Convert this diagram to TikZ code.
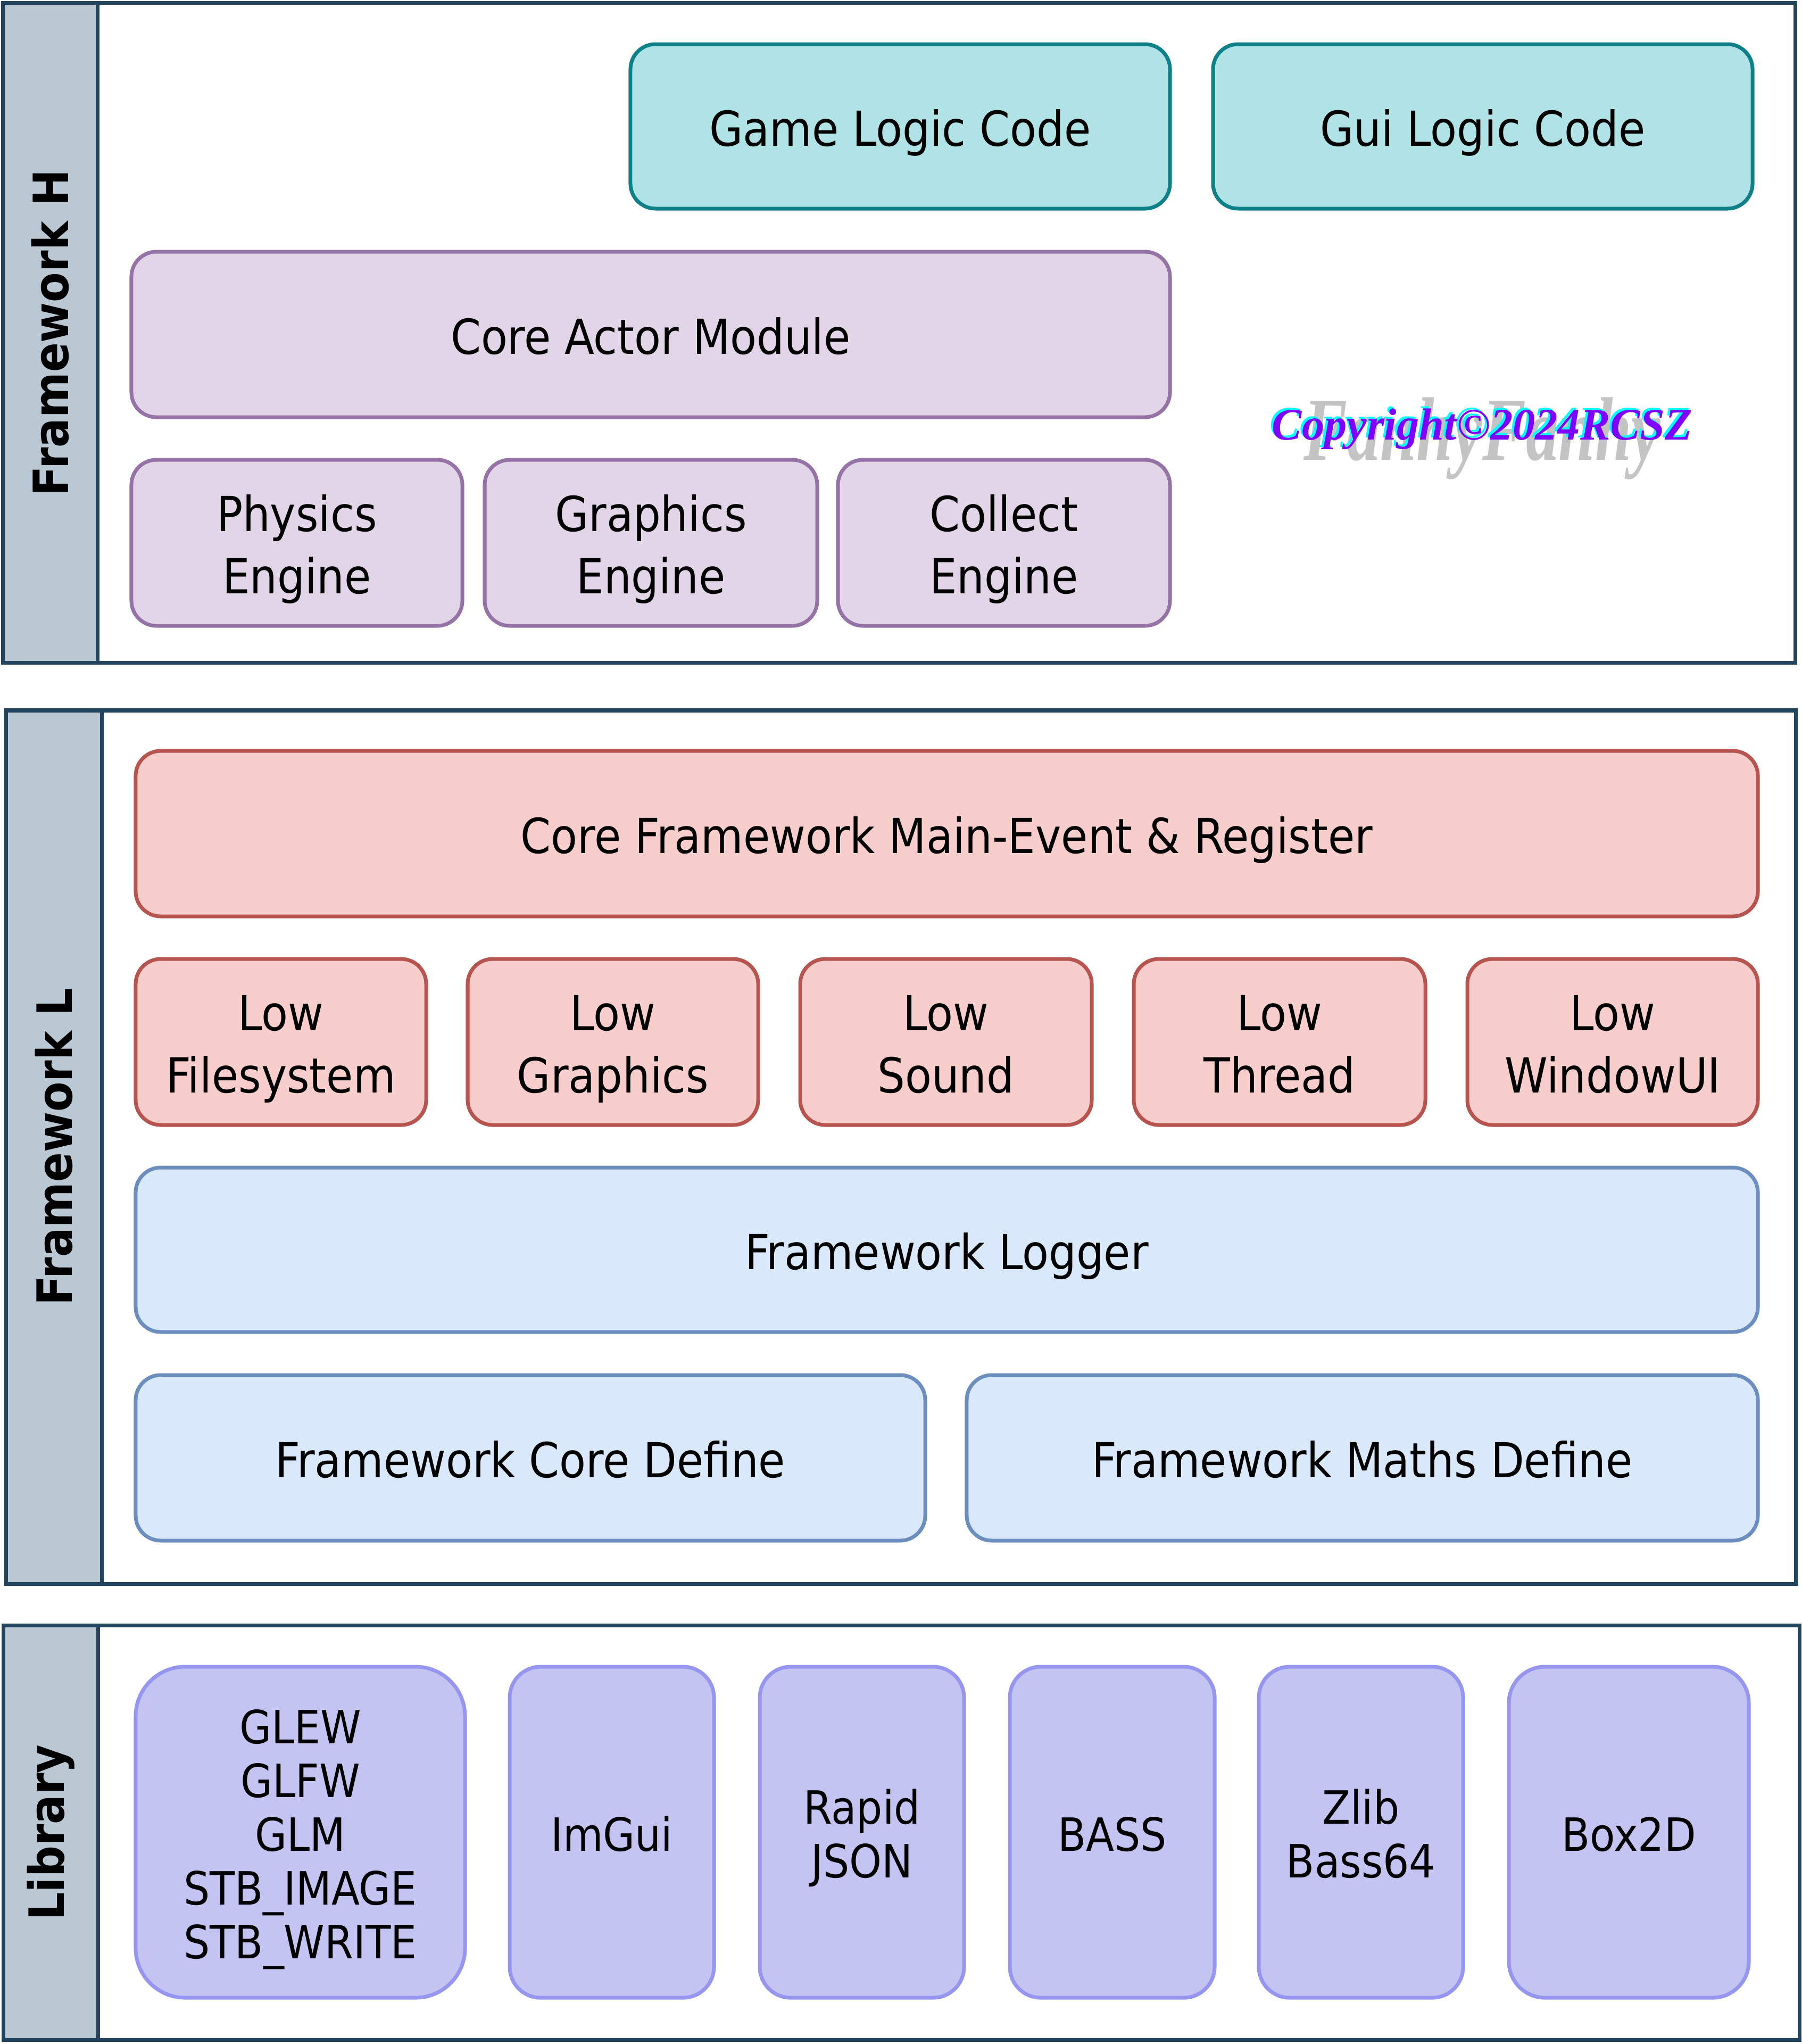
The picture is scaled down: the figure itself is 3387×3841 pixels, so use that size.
\documentclass[tikz,border=0pt]{standalone}
\usepackage{fontspec}
\IfFontExistsTF{DejaVu Sans Condensed}{\setmainfont{DejaVu Sans Condensed}}{\setmainfont{DejaVu Sans}}
\newfontfamily\copyfont{Liberation Serif}
\definecolor{sideFill}{HTML}{BAC8D3}
\definecolor{sideLine}{HTML}{23445D}
\definecolor{tealFill}{HTML}{B0E3E6}
\definecolor{tealLine}{HTML}{0E8088}
\definecolor{purpFill}{HTML}{E1D5E7}
\definecolor{purpLine}{HTML}{9673A6}
\definecolor{redFill}{HTML}{F8CECC}
\definecolor{redLine}{HTML}{B85450}
\definecolor{blueFill}{HTML}{DAE8FC}
\definecolor{blueLine}{HTML}{6C8EBF}
\definecolor{libFill}{HTML}{C4C4F3}
\definecolor{libLine}{HTML}{9696F0}
\definecolor{copyPurple}{HTML}{7F00FF}
\definecolor{copyCyan}{HTML}{00FFFF}
\definecolor{wmGrey}{HTML}{C4C4C4}
\newcommand\bx[7]{%
  \pgfmathsetmacro\bxw{(#5-#3)*0.01}%
  \pgfmathsetmacro\bxh{(#6-#4)*0.01}%
  \pgfmathsetmacro\bxx{(#3+#5)/2}%
  \pgfmathsetmacro\bxy{(#4+#6)/2}%
  \node[#2, minimum width=\bxw cm, minimum height=\bxh cm] (#1) at (\bxx,\bxy) {#7};%
}
% struts fixing the text block so the baselines sit as in the reference
\newcommand\st[1]{\rule{0pt}{28pt}#1\rule[-7pt]{0pt}{7pt}}
\newcommand\stl[1]{\rule{0pt}{27pt}#1\rule[-7pt]{0pt}{7pt}}
\tikzset{
  basebox/.style={draw, inner sep=0pt, outer sep=0pt, align=center, text=black,
    font=\fontsize{25.8}{33.3}\selectfont},
  framebox/.style={draw, inner sep=0pt, outer sep=0pt, draw=sideLine, fill=white},
  sidebox/.style={draw, inner sep=0pt, outer sep=0pt, draw=sideLine, fill=sideFill,
    text=black, font=\bfseries\fontsize{26}{31}\selectfont},
  tealbox/.style={basebox, draw=tealLine, fill=tealFill, rounded corners=0.47cm},
  purpbox/.style={basebox, draw=purpLine, fill=purpFill, rounded corners=0.47cm},
  redbox/.style={basebox, draw=redLine, fill=redFill, rounded corners=0.47cm},
  bluebox/.style={basebox, draw=blueLine, fill=blueFill, rounded corners=0.47cm},
  libbox/.style={basebox, draw=libLine, fill=libFill, rounded corners=0.58cm,
    font=\fontsize{24.5}{28.7}\selectfont},
}
\begin{document}
\begin{tikzpicture}[x=0.01cm, y=-0.01cm, line width=0.07cm]
\useasboundingbox (0,0) rectangle (3387,3841);
% ---------- Framework H ----------
\bx{frameH}{framebox}{6}{6}{3374}{1245}{}
\bx{sideH}{sidebox}{6}{6}{183}{1245}{\rotatebox{90}{Framework H}}
\bx{game}{tealbox}{1185}{83}{2199}{392}{\st{Game Logic Code}}
\bx{gui}{tealbox}{2280}{83}{3294}{392}{\st{Gui Logic Code}}
\bx{actor}{purpbox}{247}{473}{2199}{784}{\st{Core Actor Module}}
\bx{physics}{purpbox}{247}{864}{869}{1176}{\st{Physics\\Engine}}
\bx{graphics}{purpbox}{911}{864}{1536}{1176}{\st{Graphics\\Engine}}
\bx{collect}{purpbox}{1575}{864}{2199}{1176}{\st{Collect\\Engine}}
% copyright
\node[text=wmGrey, inner sep=0pt] (wm) at (2786,824)
  {\resizebox*{6.7cm}{1.54cm}{\copyfont\bfseries\itshape FanhyFanhy}};
\node[text=copyCyan, inner sep=0pt] (copyshadow) at (2782,802)
  {\resizebox{7.9cm}{!}{\copyfont\bfseries\itshape Copyright\textcopyright2024RCSZ}};
\node[text=copyPurple, inner sep=0pt] (copy) at (2786,806)
  {\resizebox{7.9cm}{!}{\copyfont\bfseries\itshape Copyright\textcopyright2024RCSZ}};
% ---------- Framework L ----------
\bx{frameL}{framebox}{12}{1335}{3375}{2976}{}
\bx{sideL}{sidebox}{12}{1335}{191}{2976}{\rotatebox{90}{Framework L}}
\bx{corefw}{redbox}{255}{1411}{3304}{1722}{\st{Core Framework Main-Event \& Register}}
\bx{lowfs}{redbox}{255}{1802}{801}{2114}{\st{Low\\Filesystem}}
\bx{lowgfx}{redbox}{879}{1802}{1425}{2114}{\st{Low\\Graphics}}
\bx{lowsnd}{redbox}{1504}{1802}{2052}{2114}{\st{Low\\Sound}}
\bx{lowthr}{redbox}{2131}{1802}{2679}{2114}{\st{Low\\Thread}}
\bx{lowwin}{redbox}{2758}{1802}{3304}{2114}{\st{Low\\WindowUI}}
\bx{logger}{bluebox}{255}{2194}{3304}{2503}{\st{Framework Logger}}
\bx{coredef}{bluebox}{255}{2584}{1739}{2895}{\st{Framework Core Define}}
\bx{mathdef}{bluebox}{1817}{2584}{3304}{2895}{\st{Framework Maths Define}}
% ---------- Library ----------
\bx{frameLib}{framebox}{7}{3054}{3382}{3833}{}
\bx{sideLib}{sidebox}{7}{3054}{184}{3833}{\rotatebox{90}{Library}}
\bx{glew}{libbox, rounded corners=0.93cm}{255}{3132}{874}{3754}{\stl{GLEW\\GLFW\\GLM\\STB\_IMAGE\\STB\_WRITE}}
\bx{imgui}{libbox}{958}{3132}{1342}{3754}{\stl{ImGui}}
\bx{rapid}{libbox}{1428}{3132}{1812}{3754}{\stl{Rapid\\JSON}}
\bx{bass}{libbox}{1898}{3132}{2283}{3754}{\stl{BASS}}
\bx{zlib}{libbox}{2366}{3132}{2750}{3754}{\stl{Zlib\\Bass64}}
\bx{box2d}{libbox, rounded corners=0.68cm}{2836}{3132}{3287}{3754}{\stl{Box2D}}
\end{tikzpicture}
\end{document}
